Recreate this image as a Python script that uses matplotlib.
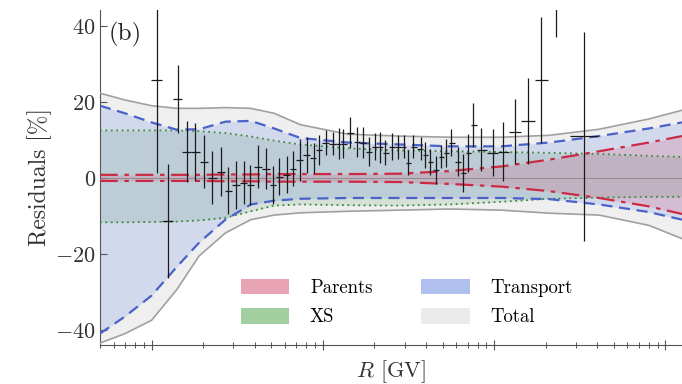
import matplotlib
matplotlib.use("Agg")
import matplotlib.pyplot as plt
from matplotlib.patches import Patch
import numpy as np

# rigidity grid for the uncertainty bands [GV]
band_R = [0.5, 0.7, 1.0, 1.4, 1.9, 2.7, 3.8, 5.2, 7.4, 14, 28, 55, 110, 210, 410, 800, 1250]

# band edges [%]
total_hi = [22.3, 20.5, 19.0, 18.3, 18.3, 18.5, 18.3, 17.0, 14.0, 11.5, 11.0, 10.7, 10.7, 11.2, 12.8, 15.5, 17.8]
total_lo = [-43.5, -41.0, -37.5, -29.5, -20.5, -14.5, -11.0, -9.8, -9.2, -8.8, -8.5, -8.2, -8.5, -9.3, -9.8, -12.5, -16.0]
transport_hi = [19.0, 17.0, 14.6, 12.7, 12.8, 14.8, 15.0, 13.0, 10.5, 9.3, 8.8, 8.3, 8.3, 9.3, 11.0, 13.0, 14.6]
transport_lo = [-41.0, -36.5, -31.0, -23.5, -17.0, -11.0, -7.0, -6.0, -5.5, -5.3, -5.3, -5.3, -5.3, -5.6, -7.0, -9.0, -11.0]
xs_hi = [12.5, 12.5, 12.5, 12.5, 12.3, 11.8, 10.9, 9.8, 8.8, 7.8, 7.2, 7.0, 6.8, 6.6, 6.3, 5.8, 5.5]
xs_lo = [-11.7, -11.7, -11.6, -11.5, -11.2, -10.5, -8.8, -7.3, -7.0, -7.2, -7.3, -7.0, -6.3, -5.5, -5.2, -5.0, -5.0]
parents_hi = [0.8, 0.8, 0.8, 0.8, 0.8, 0.9, 0.9, 1.0, 1.0, 1.0, 1.1, 1.8, 3.0, 4.8, 7.0, 9.3, 11.0]
parents_lo = [-0.8, -0.8, -0.8, -0.8, -0.8, -0.9, -0.9, -1.0, -1.0, -1.0, -1.1, -1.6, -2.3, -3.5, -5.3, -7.5, -9.5]

# data residuals
data_R = [1.07, 1.24, 1.42, 1.60, 1.80, 2.03, 2.26, 2.55, 2.80, 3.12, 3.47, 3.76, 4.19, 4.66,
          5.12, 5.55, 6.18, 6.69, 7.35, 8.07, 8.87, 9.48, 10.4, 11.4, 12.4, 13.2, 14.5, 15.8,
          17.1, 18.5, 20.3, 21.7, 23.2, 25.5, 27.3, 29.6, 31.6, 33.8, 37.2, 39.7, 42.5, 46.0,
          49.2, 52.6, 56.2, 61.8, 66.1, 70.6, 75.5, 84.0, 98.6, 113, 132, 158, 188, 229, 334]
data_res = [25.7, -11.4, 20.7, 6.9, 6.9, 4.2, 0.0, 1.6, -3.4, -1.9, -1.3, -1.9, 2.9, 2.4,
            -1.9, 0.3, 0.8, 2.4, 4.8, 6.1, 5.3, 7.4, 9.3, 9.0, 9.0, 9.0, 11.9, 9.5,
            9.3, 6.9, 8.2, 8.0, 6.6, 8.2, 8.2, 8.2, 4.0, 8.2, 7.7, 6.1, 4.2, 2.1,
            5.6, 6.6, 9.3, 4.2, 1.3, 6.6, 14.0, 7.4, 6.6, 6.9, 12.2, 14.9, 25.7, 56.0, 10.9]
data_err = [24.5, 15.0, 9.0, 8.0, 7.6, 7.0, 7.0, 6.5, 6.2, 6.3, 5.7, 5.3, 5.7, 5.4,
            5.0, 4.8, 4.9, 4.6, 5.5, 4.7, 4.0, 4.0, 3.3, 3.0, 4.0, 3.8, 4.1, 4.0,
            4.0, 3.8, 3.6, 4.0, 3.3, 3.5, 3.2, 3.0, 3.3, 3.0, 3.1, 3.4, 3.5, 3.7,
            3.0, 3.7, 3.5, 3.8, 5.0, 5.0, 5.8, 5.7, 6.2, 7.7, 8.6, 11.3, 16.6, 19.0, 27.5]

plt.rcParams["font.family"] = "serif"
plt.rcParams["font.serif"] = ["cmr10"]
plt.rcParams["mathtext.fontset"] = "cm"
plt.rcParams["axes.formatter.use_mathtext"] = True

fig = plt.figure(figsize=(6.82, 3.84), dpi=100)
ax = fig.add_axes([0.1466, 0.1016, 0.8534, 0.8724])

# filled bands
ax.fill_between(band_R, total_lo, total_hi, color="#808080", alpha=0.12, lw=0, zorder=1)
ax.fill_between(band_R, transport_lo, transport_hi, color="royalblue", alpha=0.16, lw=0, zorder=2)
ax.fill_between(band_R, xs_lo, xs_hi, color="#2e7d4a", alpha=0.13, lw=0, zorder=3)
ax.fill_between(band_R, parents_lo, parents_hi, color="crimson", alpha=0.14, lw=0, zorder=4)

ax.axhline(0, color="#888888", lw=0.6, zorder=5)

# band edges
for edge in (total_hi, total_lo):
    ax.plot(band_R, edge, color="#a0a0a0", lw=1.2, zorder=6)
for edge in (xs_hi, xs_lo):
    ax.plot(band_R, edge, color="#3c8c3c", lw=1.3, ls=(0, (1, 2)), zorder=6)
for edge in (transport_hi, transport_lo):
    ax.plot(band_R, edge, color="#4a62c8", lw=1.6, ls=(0, (5, 3)), zorder=6)
for edge in (parents_hi, parents_lo):
    ax.plot(band_R, edge, color="#cc2a44", lw=1.6, ls=(0, (8, 3, 2, 3)), zorder=7)

# bin edges halfway (in log) between neighbouring points
logR = np.log10(data_R)
mid = (logR[1:] + logR[:-1]) / 2
lo = np.concatenate([[2 * logR[0] - mid[0]], mid])
hi = np.concatenate([mid, [2 * logR[-1] - mid[-1]]])
xerr = [np.array(data_R) - 10 ** lo, 10 ** hi - np.array(data_R)]
ax.errorbar(data_R, data_res, yerr=data_err, xerr=xerr, fmt="none", ecolor="#1a1a1a",
            elinewidth=0.9, capsize=0, zorder=8)

ax.set_xscale("log")
ax.set_xlim(0.5, 1250)
ax.set_ylim(-44, 44.2)
ax.set_yticks([-40, -20, 0, 20, 40])

for side in ("top", "right"):
    ax.spines[side].set_visible(False)
for side in ("left", "bottom"):
    ax.spines[side].set_color("#555555")
    ax.spines[side].set_linewidth(0.8)

ax.tick_params(axis="y", direction="in", length=5, width=0.8, color="#555555",
               labelsize=16, labelcolor="#333333", pad=3)
ax.tick_params(axis="x", which="major", direction="inout", length=7, width=0.8,
               color="#555555", labelbottom=False)
ax.tick_params(axis="x", which="minor", direction="inout", length=4, width=0.7,
               color="#555555", labelbottom=False)

ax.set_ylabel("Residuals [%]", fontsize=17, color="#333333", labelpad=2)
ax.set_xlabel("$R$ [GV]", fontsize=16, color="#333333", labelpad=6)
ax.text(0.015, 0.965, "(b)", transform=ax.transAxes, fontsize=18, va="top", ha="left",
        color="#222222", zorder=9)

handles = [Patch(facecolor="#e8a3b4", edgecolor="none", label="Parents"),
           Patch(facecolor="#a3cfa0", edgecolor="none", label="XS"),
           Patch(facecolor="#b0c0ee", edgecolor="none", label="Transport"),
           Patch(facecolor="#ebebeb", edgecolor="none", label="Total")]
ax.legend(handles=handles, ncol=2, loc="lower center", bbox_to_anchor=(0.527, 0.005),
          frameon=False, fontsize=13.5, handlelength=2.6, handleheight=0.9,
          handletextpad=1.1, columnspacing=2.6, labelspacing=0.6)

fig.savefig("out.png", dpi=100)
